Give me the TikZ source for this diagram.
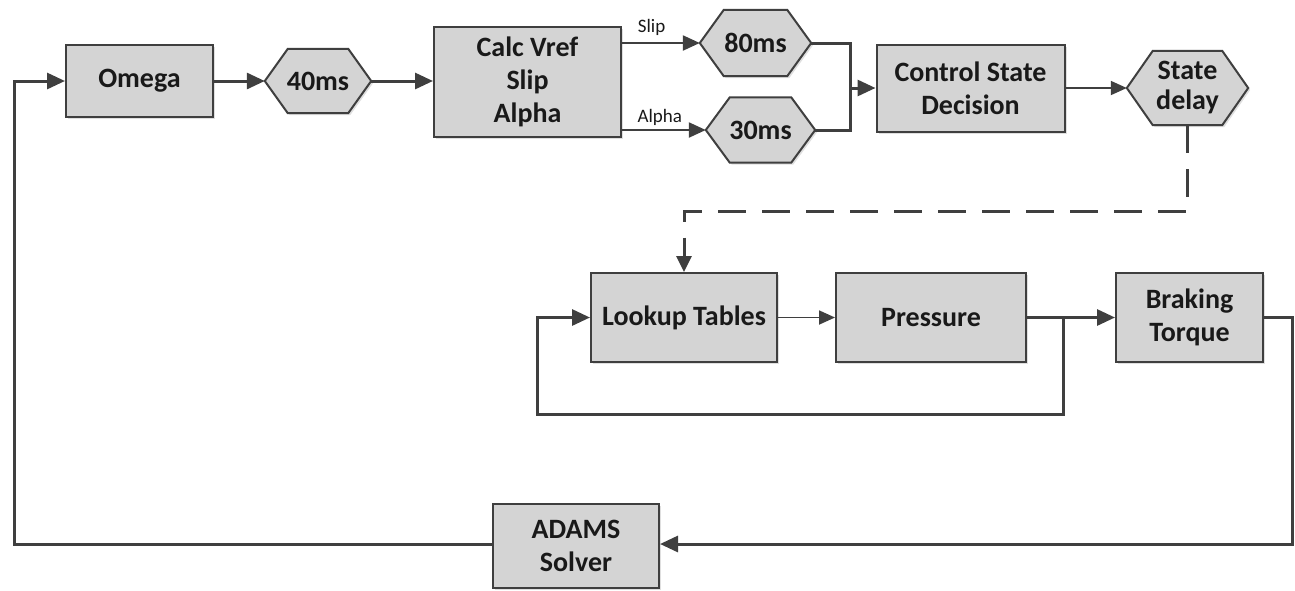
\documentclass[tikz,border=0pt]{standalone}
\usepackage{fontspec}
\setmainfont{Carlito}
\usetikzlibrary{arrows.meta,shadows,backgrounds,calc}
\definecolor{edge}{HTML}{3F3F3F}
\definecolor{boxfill}{HTML}{D4D4D4}
\newcommand\hexnode[7]{%
  \node[hexbody, minimum width=#4, minimum height=#5] (#1) at (#2,#3) {#7};
  \begin{scope}[on background layer]
    \path[hexshape] (#1.west) -- ([xshift=#6]#1.north west) -- ([xshift=-#6]#1.north east)
      -- (#1.east) -- ([xshift=-#6]#1.south east) -- ([xshift=#6]#1.south west) -- cycle;
  \end{scope}}
\begin{document}
\begin{tikzpicture}[x=1pt,y=-1pt,
  boxtext/.style={font=\fontsize{28}{33}\selectfont\bfseries, align=center, text=black!90},
  box/.style={boxtext, draw=edge, line width=2pt, fill=boxfill, inner sep=0pt,
    drop shadow={shadow xshift=2pt,shadow yshift=-2pt,opacity=0.25}},
  hexbody/.style={boxtext, inner sep=0pt},
  hexshape/.style={draw=edge, line width=2pt, fill=boxfill, line join=miter,
    drop shadow={shadow xshift=2pt,shadow yshift=-2pt,opacity=0.25}},
  wire/.style={draw=edge, line width=3pt},
  conn/.style={wire, -{Triangle[length=18pt,width=16pt]}},
  connmid/.style={draw=edge, line width=2.3pt, -{Triangle[length=17pt,width=15pt]}},
  connthin/.style={draw=edge, line width=1.8pt, -{Triangle[length=16pt,width=14pt]}},
  dashconn/.style={draw=edge, line width=3pt, dash pattern=on 28pt off 16pt, -{Triangle[length=16pt,width=15pt]}},
  lbl/.style={font=\fontsize{19}{22}\selectfont, text=black!90, inner sep=2pt}
]
\useasboundingbox (0,0) rectangle (1295,590);

% nodes
\node[box, minimum width=147pt, minimum height=72pt] (omega) at (139.5,81) {Omega};
\hexnode{h40}{318}{81}{106pt}{64pt}{23pt}{40ms}
\node[box, minimum width=187pt, minimum height=110pt] (calc) at (527.5,82) {Calc Vref\\Slip\\Alpha};
\hexnode{h80}{755.5}{43}{111pt}{66pt}{24pt}{80ms}
\hexnode{h30}{760.5}{130}{109pt}{65pt}{24pt}{30ms}
\node[box, minimum width=188pt, minimum height=87pt] (ctrl) at (970.5,88.5) {Control State\\Decision};
\hexnode{hstate}{1187.5}{88}{121pt}{74pt}{26pt}{State\\[-3pt]delay}
\node[box, minimum width=186pt, minimum height=89pt] (lookup) at (684,317.5) {Lookup Tables};
\node[box, minimum width=190pt, minimum height=89pt] (pressure) at (931,317.5) {Pressure};
\node[box, minimum width=147pt, minimum height=89pt] (braking) at (1189.5,317.5) {Braking\\Torque};
\node[box, minimum width=166pt, minimum height=84pt] (adams) at (576,546) {ADAMS\\Solver};

% helper coordinates
\coordinate (mj) at (850,88);
\coordinate (pj) at (1063,317.5);
\coordinate (pb) at (1063,414);
\coordinate (lj) at (537,317.5);
\coordinate (rb) at (1292,544);
\coordinate (lb) at (14,544);

% connectors
\draw[conn] (omega.east) -- (h40.west);
\draw[conn] (h40.east) -- (h40.east -| calc.west);
\draw[connmid] (calc.east |- h80.west) -- (h80.west)
  node[lbl, pos=0.38, above=4pt] {Slip};
\draw[connmid] (calc.east |- h30.west) -- (h30.west)
  node[lbl, pos=0.45, above=1pt] {Alpha};
\draw[wire, line join=miter] (h80.east) -| (mj) |- (h30.east);
\draw[conn] (mj) -- (mj -| ctrl.west);
\draw[connthin] (ctrl.east |- hstate.west) -- (hstate.west);
\draw[dashconn] (hstate.south) -- ++(0,86) -| (lookup.north);
\draw[connthin] (lookup.east) -- (pressure.west);
\draw[conn] (pressure.east) -- (braking.west);
\draw[conn, line join=miter] (pj) -- (pb) -| (lj) -- (lookup.west);
\draw[conn, line join=miter] (braking.east) -| (rb) -- (rb -| adams.east);
\draw[conn, line join=miter] (adams.west |- lb) -- (lb) |- (omega.west);
\end{tikzpicture}
\end{document}
